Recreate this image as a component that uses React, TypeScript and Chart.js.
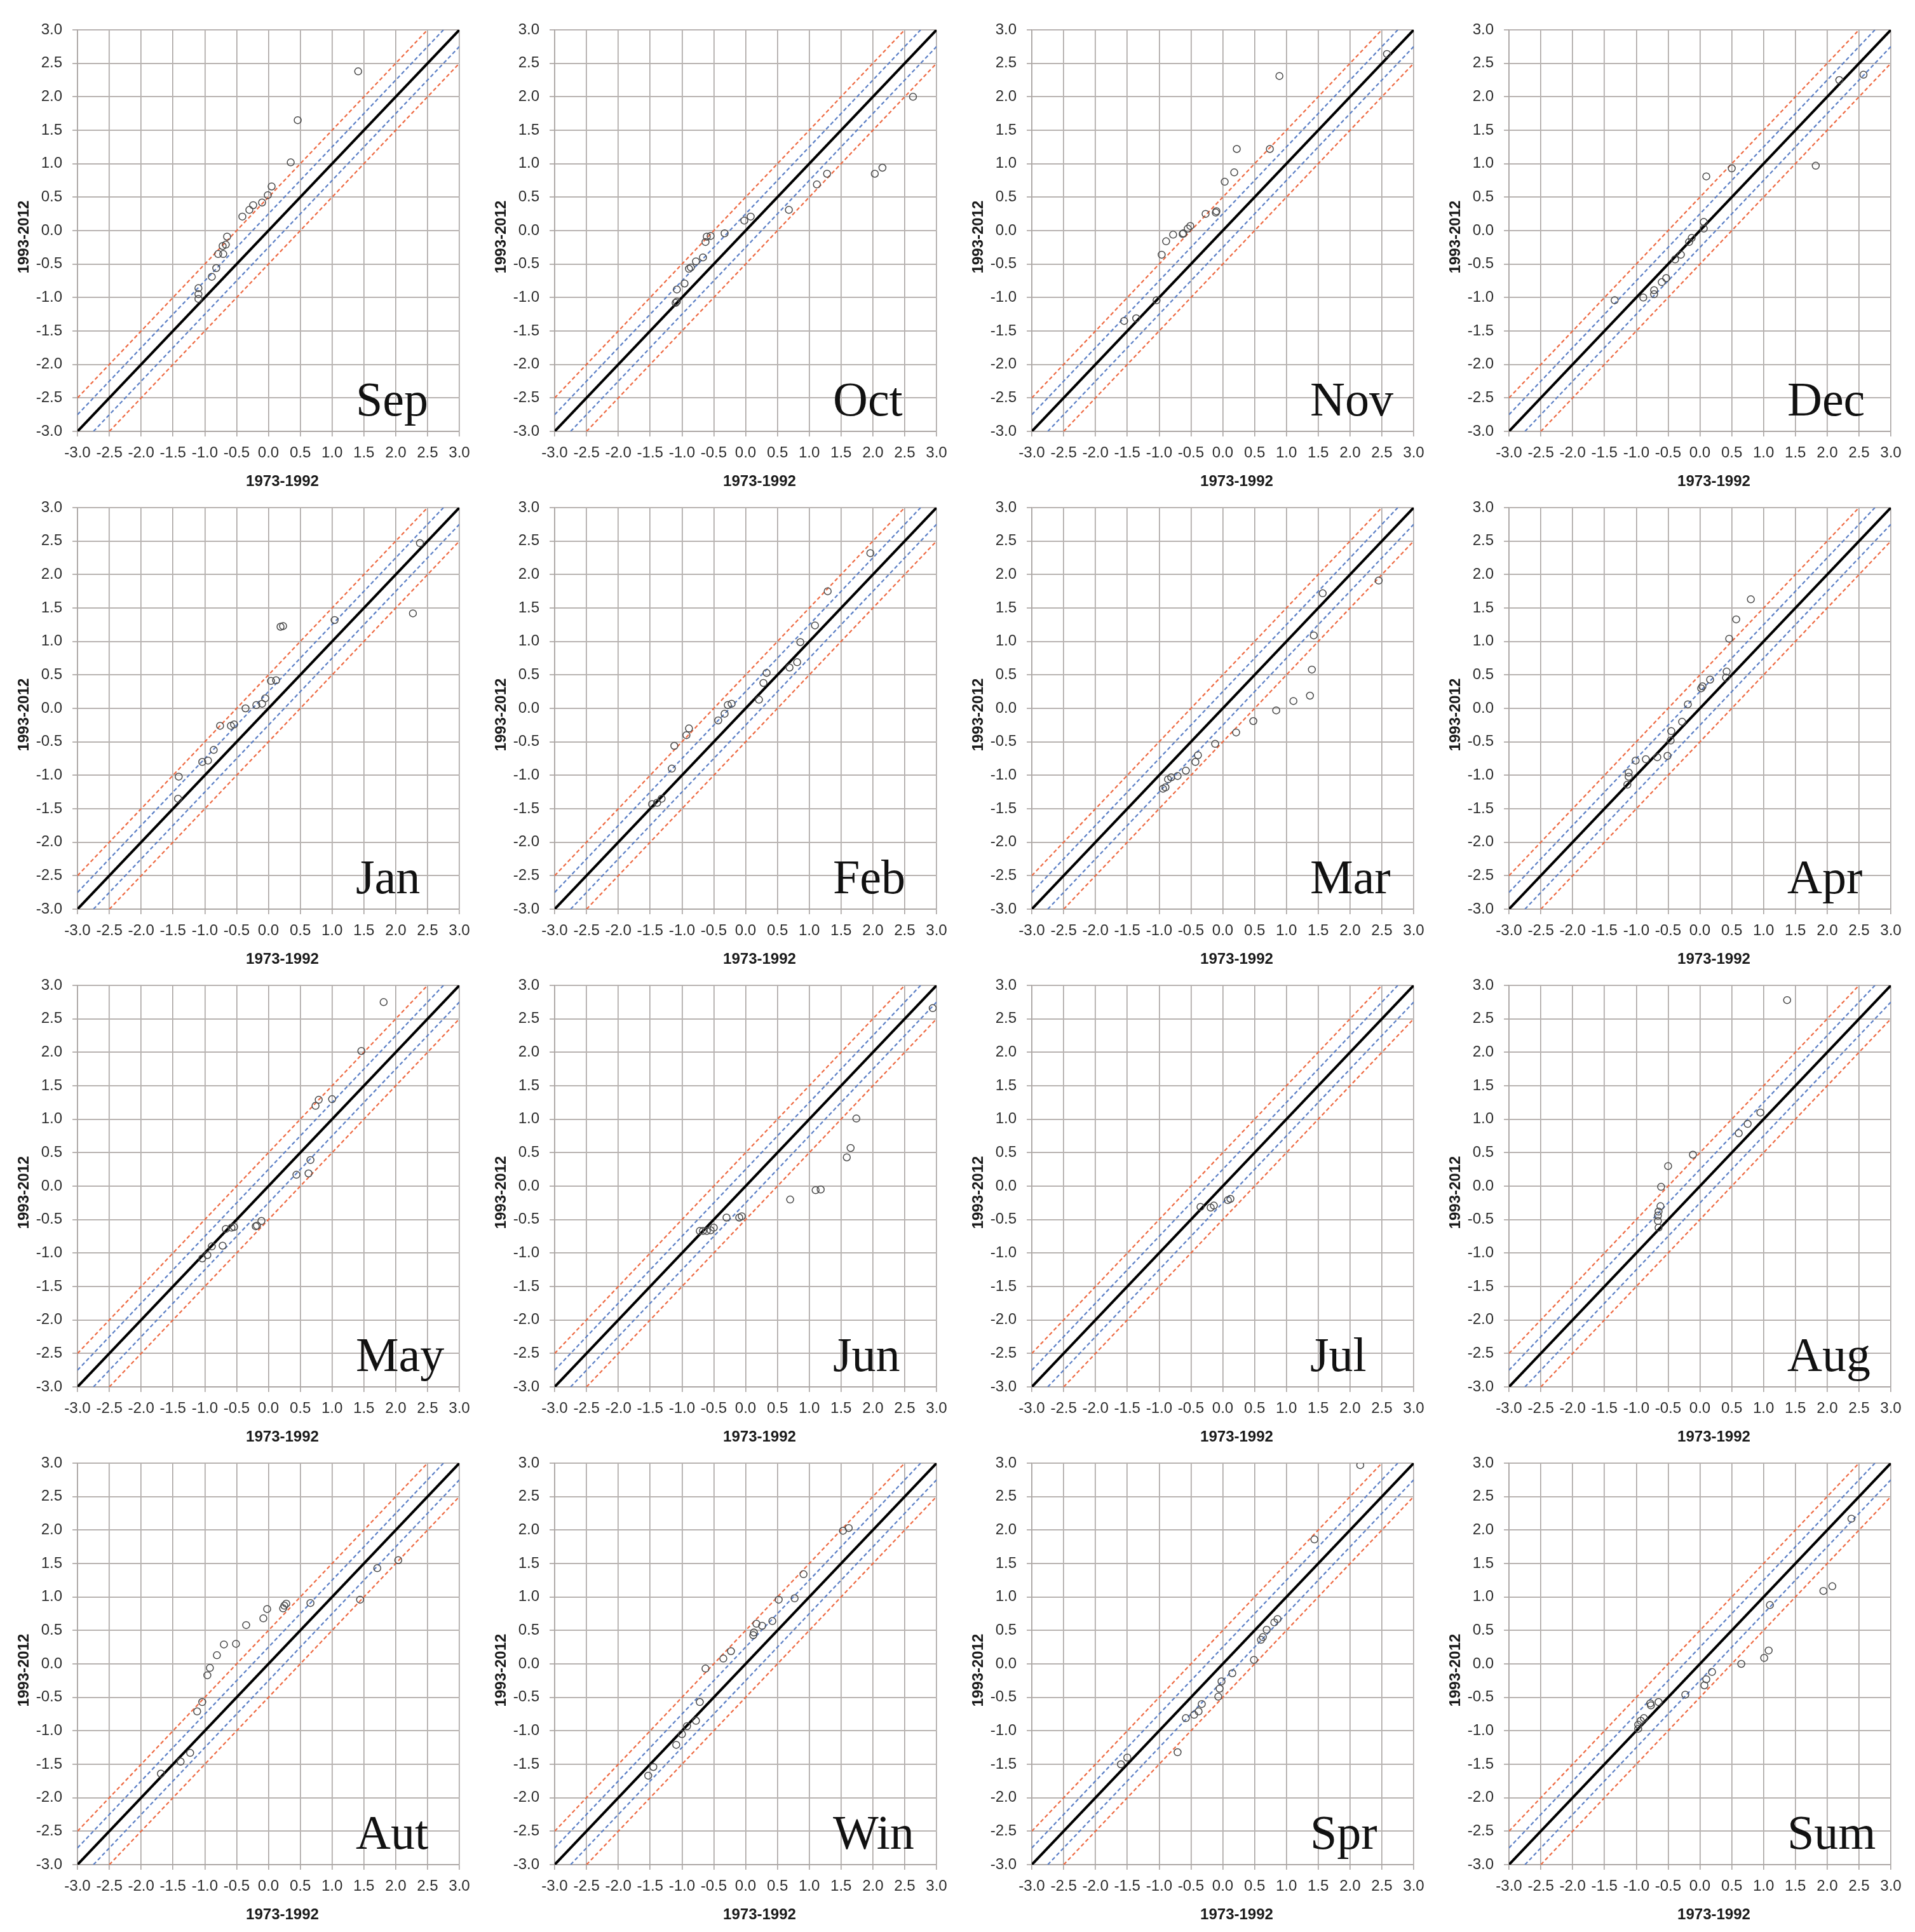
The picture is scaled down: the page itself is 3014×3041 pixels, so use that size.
import React, { useEffect, useRef } from "react";
import { Chart, registerables } from "chart.js";

Chart.register(...registerables);

// ---------- data ----------
const panelNames = ["Sep", "Oct", "Nov", "Dec", "Jan", "Feb", "Mar", "Apr", "May", "Jun", "Jul", "Aug", "Aut", "Win", "Spr", "Sum"];
const tickValues = [-3, -2.5, -2, -1.5, -1, -0.5, 0, 0.5, 1, 1.5, 2, 2.5, 3];
const xAxisTitle = "1973-1992";
const yAxisTitle = "1993-2012";
const refOffsets = [0.5, 0.25, 0, -0.25, -0.5];

const sepX = [1.41, 0.46, 0.35, 0.05, -0.01, -0.1, -0.24, -0.3, -0.41, -0.65, -0.67, -0.72, -0.71, -0.79, -0.82, -0.89, -1.1, -1.1, -1.1];
const sepY = [2.38, 1.65, 1.02, 0.66, 0.53, 0.42, 0.38, 0.31, 0.21, -0.09, -0.21, -0.23, -0.35, -0.35, -0.56, -0.69, -0.86, -0.95, -1.02];
const octX = [2.63, 2.15, 2.03, 1.28, 1.12, 0.68, 0.08, -0.02, -0.33, -0.55, -0.61, -0.63, -0.67, -0.78, -0.86, -0.89, -0.96, -1.08, -1.08, -1.1];
const octY = [2.0, 0.94, 0.85, 0.85, 0.69, 0.31, 0.21, 0.15, -0.04, -0.08, -0.09, -0.17, -0.4, -0.46, -0.55, -0.57, -0.79, -0.88, -1.06, -1.08];
const novX = [2.58, 0.89, 0.22, 0.74, 0.18, 0.03, -0.1, -0.11, -0.27, -0.51, -0.55, -0.62, -0.63, -0.78, -0.89, -0.96, -1.04, -1.36, -1.55];
const novY = [2.64, 2.31, 1.22, 1.22, 0.87, 0.73, 0.29, 0.27, 0.25, 0.07, 0.03, -0.04, -0.05, -0.06, -0.16, -0.36, -1.04, -1.31, -1.35];
const decX = [2.57, 2.19, 1.82, 0.5, 0.1, 0.06, 0.06, -0.13, -0.17, -0.3, -0.39, -0.53, -0.6, -0.72, -0.72, -0.89, -1.34];
const decY = [2.33, 2.25, 0.97, 0.93, 0.81, 0.13, 0.03, -0.11, -0.17, -0.36, -0.43, -0.71, -0.77, -0.89, -0.95, -1.0, -1.04];
const janX = [2.38, 2.27, 1.04, 0.23, 0.19, 0.12, 0.04, -0.05, -0.1, -0.19, -0.36, -0.54, -0.59, -0.76, -0.86, -0.95, -1.04, -1.41, -1.42];
const janY = [2.47, 1.42, 1.32, 1.23, 1.22, 0.42, 0.41, 0.15, 0.07, 0.05, 0.0, -0.24, -0.26, -0.26, -0.62, -0.78, -0.8, -1.02, -1.35];
const febX = [1.96, 1.29, 1.09, 0.86, 0.81, 0.69, 0.33, 0.28, 0.21, -0.22, -0.28, -0.33, -0.43, -0.89, -0.93, -1.12, -1.16, -1.32, -1.39, -1.47];
const febY = [2.32, 1.75, 1.24, 0.99, 0.69, 0.61, 0.53, 0.38, 0.13, 0.07, 0.05, -0.08, -0.18, -0.3, -0.4, -0.56, -0.9, -1.35, -1.41, -1.43];
const marX = [2.45, 1.57, 1.43, 1.4, 1.37, 1.11, 0.84, 0.48, 0.21, -0.12, -0.39, -0.43, -0.58, -0.71, -0.81, -0.86, -0.9, -0.94];
const marY = [1.91, 1.72, 1.09, 0.58, 0.19, 0.11, -0.03, -0.19, -0.36, -0.53, -0.7, -0.8, -0.93, -1.01, -1.03, -1.06, -1.18, -1.2];
const aprX = [0.8, 0.57, 0.46, 0.42, 0.41, 0.16, 0.04, 0.02, -0.19, -0.28, -0.45, -0.46, -0.51, -0.67, -0.85, -1.01, -1.12, -1.12, -1.14];
const aprY = [1.63, 1.33, 1.04, 0.55, 0.46, 0.43, 0.33, 0.3, 0.06, -0.2, -0.34, -0.48, -0.71, -0.73, -0.76, -0.78, -0.96, -1.02, -1.14];
const mayX = [1.81, 1.46, 1.0, 0.79, 0.74, 0.66, 0.63, 0.44, -0.11, -0.18, -0.2, -0.54, -0.58, -0.67, -0.72, -0.89, -0.96, -1.04];
const mayY = [2.75, 2.02, 1.3, 1.29, 1.2, 0.39, 0.19, 0.17, -0.52, -0.59, -0.6, -0.61, -0.62, -0.64, -0.89, -0.9, -1.03, -1.08];
const junX = [2.94, 1.74, 1.65, 1.59, 1.18, 1.1, 0.7, -0.06, -0.1, -0.3, -0.5, -0.55, -0.61, -0.67, -0.72];
const junY = [2.66, 1.01, 0.57, 0.43, -0.05, -0.06, -0.2, -0.45, -0.47, -0.47, -0.62, -0.66, -0.67, -0.67, -0.67];
const julX = [0.12, 0.08, -0.14, -0.19, -0.35];
const julY = [-0.19, -0.21, -0.29, -0.32, -0.31];
const augX = [1.37, 0.95, 0.75, 0.61, -0.11, -0.5, -0.61, -0.62, -0.65, -0.66, -0.66, -0.65];
const augY = [2.78, 1.1, 0.93, 0.79, 0.47, 0.3, -0.01, -0.3, -0.38, -0.44, -0.52, -0.62];
const autX = [2.04, 1.71, 1.44, 0.66, 0.28, 0.25, 0.23, -0.02, -0.08, -0.35, -0.51, -0.7, -0.81, -0.92, -0.96, -1.04, -1.12, -1.23, -1.38, -1.69];
const autY = [1.55, 1.43, 0.96, 0.91, 0.9, 0.87, 0.83, 0.82, 0.68, 0.58, 0.3, 0.29, 0.13, -0.06, -0.17, -0.57, -0.71, -1.33, -1.46, -1.64];
const winX = [1.62, 1.53, 0.91, 0.77, 0.52, 0.42, 0.26, 0.17, 0.13, 0.12, -0.23, -0.35, -0.63, -0.72, -0.78, -0.92, -1.0, -1.09, -1.45, -1.53];
const winY = [2.03, 1.99, 1.34, 0.98, 0.96, 0.64, 0.57, 0.6, 0.47, 0.43, 0.19, 0.08, -0.07, -0.57, -0.85, -0.93, -1.05, -1.21, -1.54, -1.67];
const sprX = [2.16, 1.44, 0.86, 0.81, 0.69, 0.63, 0.6, 0.49, 0.15, -0.02, -0.05, -0.07, -0.33, -0.38, -0.45, -0.58, -0.71, -1.5, -1.6];
const sprY = [2.97, 1.86, 0.67, 0.62, 0.51, 0.4, 0.36, 0.06, -0.14, -0.26, -0.37, -0.49, -0.6, -0.71, -0.76, -0.81, -1.32, -1.4, -1.5];
const sumX = [2.38, 2.08, 1.94, 1.1, 1.08, 1.01, 0.65, 0.19, 0.1, 0.07, -0.23, -0.65, -0.77, -0.78, -0.88, -0.93, -0.97, -0.97];
const sumY = [2.17, 1.16, 1.09, 0.88, 0.2, 0.09, 0.0, -0.12, -0.23, -0.32, -0.46, -0.57, -0.62, -0.59, -0.81, -0.85, -0.91, -0.97];

const panelXs = [sepX, octX, novX, decX, janX, febX, marX, aprX, mayX, junX, julX, augX, autX, winX, sprX, sumX];
const panelYs = [sepY, octY, novY, decY, janY, febY, marY, aprY, mayY, junY, julY, augY, autY, winY, sprY, sumY];

// ---------- styles ----------
const COL_PITCH = 751;
const ROW_PITCH = 752;
const CANVAS_W = 751;
const CANVAS_H = 800;
const PLOT_LEFT = 105;
const PLOT_TOP = 47;
const PLOT_W = 601;
const PLOT_H = 632;
const SANS = '"Liberation Sans", Arial, sans-serif';
const SERIF = '"Liberation Serif", "Times New Roman", serif';
const lineColors: Record<string, string> = { "0.5": "#ee6a43", "0.25": "#5b7fc6", "0": "#000000", "-0.25": "#5b7fc6", "-0.5": "#ee6a43" };

const annotPlugin = {
  id: "annot",
  afterDraw(chart: any, _args: any, opts: any) {
    const { ctx, chartArea } = chart;
    ctx.save();
    ctx.fillStyle = "#1a1a1a";
    ctx.font = `bold 24px ${SANS}`;
    ctx.textAlign = "center";
    ctx.textBaseline = "middle";
    ctx.fillText(xAxisTitle, (chartArea.left + chartArea.right) / 2 + 22, chartArea.bottom + 79);
    ctx.translate(chartArea.left - 84, (chartArea.top + chartArea.bottom) / 2 + 10);
    ctx.rotate(-Math.PI / 2);
    ctx.fillText(yAxisTitle, 0, 0);
    ctx.restore();
    ctx.save();
    ctx.fillStyle = "#111111";
    ctx.font = `76px ${SERIF}`;
    ctx.textAlign = "left";
    ctx.textBaseline = "alphabetic";
    ctx.fillText(opts.label, chartArea.left + 438, chartArea.bottom - 25);
    ctx.restore();
  },
};

function Panel({ index }: { index: number }) {
  const ref = useRef<HTMLCanvasElement | null>(null);
  useEffect(() => {
    if (!ref.current) return;
    const xs = panelXs[index];
    const ys = panelYs[index];
    const lo = tickValues[0];
    const hi = tickValues[tickValues.length - 1];
    const lineSets = refOffsets.map((o, i) => ({
      type: "scatter" as const,
      data: [
        { x: Math.max(lo, lo - o), y: Math.max(lo, lo - o) + o },
        { x: Math.min(hi, hi - o), y: Math.min(hi, hi - o) + o },
      ],
      showLine: true,
      borderColor: lineColors[String(o)],
      borderWidth: o === 0 ? 4 : 2.2,
      borderDash: o === 0 ? [] : [6, 4],
      pointRadius: 0,
      order: 2 + i,
    }));
    const chart = new Chart(ref.current, {
      type: "scatter",
      data: {
        datasets: [
          {
            data: xs.map((x, i) => ({ x, y: ys[i] })),
            pointRadius: 5.5,
            pointBorderWidth: 1.5,
            borderColor: "#4a4a4a",
            backgroundColor: "rgba(0,0,0,0)",
            pointStyle: "circle",
            order: 0,
          } as any,
          ...lineSets,
        ],
      },
      options: {
        animation: false,
        responsive: false,
        maintainAspectRatio: false,
        devicePixelRatio: 1,
        layout: { padding: { left: 0, right: CANVAS_W - PLOT_LEFT - PLOT_W, top: PLOT_TOP, bottom: 0 } },
        plugins: {
          legend: { display: false },
          tooltip: { enabled: false },
          annot: { label: panelNames[index] },
        } as any,
        scales: {
          x: {
            type: "linear",
            min: lo,
            max: hi,
            afterBuildTicks: (s: any) => {
              s.ticks = tickValues.map((v) => ({ value: v }));
            },
            afterFit: (s: any) => {
              s.height = CANVAS_H - PLOT_TOP - PLOT_H;
            },
            ticks: {
              autoSkip: false,
              maxRotation: 0,
              padding: 12,
              color: "#2e2e2e",
              font: { family: SANS, size: 24 },
              callback: (v: any) => Number(v).toFixed(1),
            },
            grid: { color: "#a8a3a1", lineWidth: 1.6, tickLength: 8, drawTicks: true },
            border: { color: "#a8a3a1", width: 1.6 },
          },
          y: {
            type: "linear",
            min: lo,
            max: hi,
            afterBuildTicks: (s: any) => {
              s.ticks = tickValues.map((v) => ({ value: v }));
            },
            afterFit: (s: any) => {
              s.width = PLOT_LEFT;
            },
            ticks: {
              autoSkip: false,
              padding: 16,
              color: "#2e2e2e",
              font: { family: SANS, size: 24 },
              callback: (v: any) => Number(v).toFixed(1),
            },
            grid: { color: "#b8b3b1", lineWidth: 2, tickLength: 8, drawTicks: true },
            border: { color: "#a8a3a1", width: 1.6 },
          },
        },
      },
      plugins: [annotPlugin],
    } as any);
    return () => chart.destroy();
  }, [index]);
  const col = index % 4;
  const row = Math.floor(index / 4);
  return (
    <canvas
      ref={ref}
      width={CANVAS_W}
      height={CANVAS_H}
      style={{
        position: "absolute",
        left: 122 - PLOT_LEFT + col * COL_PITCH,
        top: row * ROW_PITCH,
        width: CANVAS_W,
        height: CANVAS_H,
      }}
    />
  );
}

export default function App() {
  return (
    <div
      style={{
        position: "absolute",
        left: 0,
        top: 0,
        width: 3014,
        height: 3041,
        overflow: "hidden",
        background: "#ffffff",
      }}
    >
      {panelNames.map((_, i) => (
        <Panel key={i} index={i} />
      ))}
    </div>
  );
}
